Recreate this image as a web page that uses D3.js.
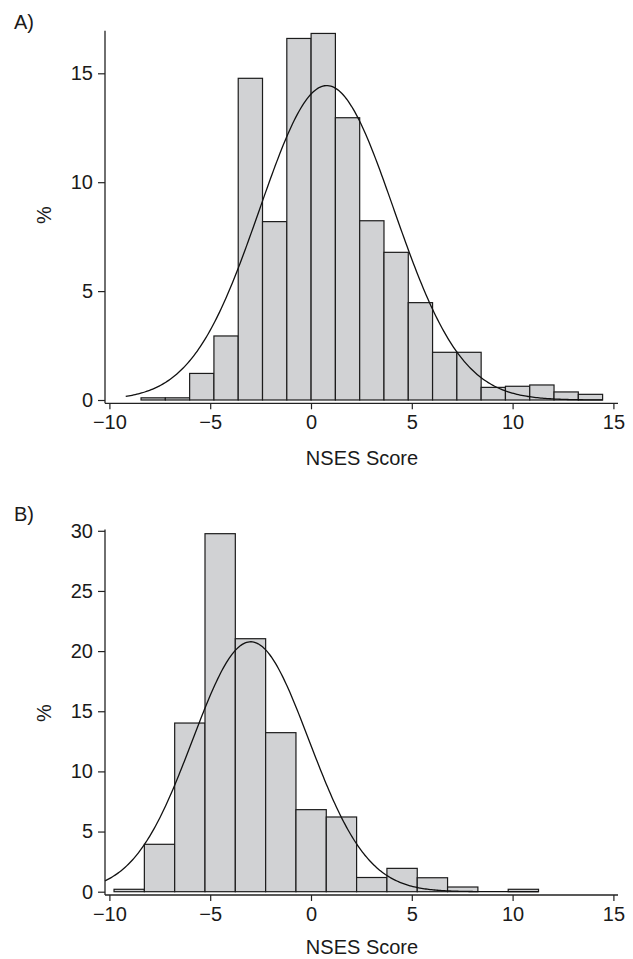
<!DOCTYPE html>
<html>
<head>
<meta charset="utf-8">
<script src="https://cdn.jsdelivr.net/npm/d3@7"></script>
<style>
  html, body { margin: 0; padding: 0; background: #fff; }
  svg { display: block; }
  text { font-family: "Liberation Sans", Arial, sans-serif; fill: #1a1a1a; }
</style>
</head>
<body>
<svg id="chart" width="633" height="959"></svg>
<script>
// ---------------- DATA ----------------
// Panel A histogram
const binStartA = -8.43;
const binWidthA = 1.205;
const percentA = [0.1, 0.1, 1.22, 2.94, 14.77, 8.19, 16.6, 16.83, 12.96, 8.23,
                  6.78, 4.47, 2.19, 2.19, 0.58, 0.63, 0.69, 0.37, 0.26];
// Panel A fitted normal curve parameters
const meanA = 0.78, sdA = 3.33, curveFromA = -9.19, curveToA = 14.47;

// Panel B histogram
const binStartB = -9.77;
const binWidthB = 1.504;
const percentB = [0.2, 3.94, 14.02, 29.76, 21.03, 13.22, 6.82, 6.21, 1.18, 1.94,
                  1.16, 0.39, 0, 0.2];
// Panel B fitted normal curve parameters
const meanB = -2.99, sdB = 2.888, curveFromB = -10.22, curveToB = 11.29;

// Axis ticks and labels
const xTicks = [-10, -5, 0, 5, 10, 15];
const yTicksA = [0, 5, 10, 15];
const yTicksB = [0, 5, 10, 15, 20, 25, 30];
const panelLabels = ["A)", "B)"];
const xTitle = "NSES Score";
const yTitle = "%";

// ---------------- DRAW ----------------
const svg = d3.select("#chart");
const fmt = d => d < 0 ? "\u2212" + Math.abs(d) : String(d);

const x = d3.scaleLinear().domain([-10, 15]).range([109.4, 613.4]);

function panel(cfg) {
  const g = svg.append("g");
  const y = d3.scaleLinear().domain([0, cfg.yMax]).range([cfg.y0, cfg.y0 - cfg.pxPerUnit * cfg.yMax]);
  const bins = cfg.values.map((v, i) => ({
    x0: cfg.binStart + i * cfg.binWidth,
    x1: cfg.binStart + (i + 1) * cfg.binWidth,
    v: v
  }));

  // bars
  g.selectAll("rect.bar").data(bins).enter().append("rect")
    .attr("class", "bar")
    .attr("x", d => x(d.x0))
    .attr("width", d => x(d.x1) - x(d.x0))
    .attr("y", d => y(d.v))
    .attr("height", d => Math.max(0, y(0) - y(d.v)))
    .attr("fill", "#d1d2d4")
    .attr("stroke", "#1c1c1c")
    .attr("stroke-width", 1.2);

  // normal curve (percent per bin)
  const dens = t => 100 * cfg.binWidth / (cfg.sd * Math.sqrt(2 * Math.PI)) *
                    Math.exp(-0.5 * Math.pow((t - cfg.mean) / cfg.sd, 2));
  const pts = d3.range(0, 301).map(i => cfg.cFrom + (cfg.cTo - cfg.cFrom) * i / 300);
  g.append("path")
    .datum(pts)
    .attr("d", d3.line().x(t => x(t)).y(t => y(dens(t))).curve(d3.curveLinear))
    .attr("fill", "none")
    .attr("stroke", "#111")
    .attr("stroke-width", 1.3);

  const axisY = cfg.y0 + 3.3;
  const axisX = 105;

  // y axis
  const yAx = g.append("g").attr("transform", `translate(${axisX},0)`)
    .call(d3.axisLeft(y).tickValues(cfg.yTicks).tickSize(7).tickPadding(5).tickFormat(fmt));
  yAx.select(".domain").remove();
  yAx.append("line").attr("x1", 0).attr("x2", 0)
    .attr("y1", y(cfg.axisTop)).attr("y2", axisY)
    .attr("stroke", "#222").attr("stroke-width", 1.3);
  yAx.selectAll(".tick line").attr("stroke", "#222").attr("stroke-width", 1.2);
  yAx.selectAll(".tick text").attr("font-size", 20).attr("fill", "#1a1a1a")
    .style("font-family", '"Liberation Sans", Arial, sans-serif');

  // x axis
  const xAx = g.append("g").attr("transform", `translate(0,${axisY})`)
    .call(d3.axisBottom(x).tickValues(xTicks).tickSize(6).tickPadding(6).tickFormat(fmt));
  xAx.select(".domain").remove();
  xAx.append("line").attr("x1", axisX).attr("x2", 618)
    .attr("y1", 0).attr("y2", 0)
    .attr("stroke", "#222").attr("stroke-width", 1.3);
  xAx.selectAll(".tick line").attr("stroke", "#222").attr("stroke-width", 1.2);
  xAx.selectAll(".tick text").attr("font-size", 20).attr("fill", "#1a1a1a")
    .style("font-family", '"Liberation Sans", Arial, sans-serif');

  // titles
  g.append("text").attr("x", 362).attr("y", cfg.y0 + cfg.xTitleDy)
    .attr("text-anchor", "middle").attr("font-size", 20).text(xTitle);
  g.append("text")
    .attr("transform", `translate(50.5,${cfg.yTitleY}) rotate(-90)`)
    .attr("text-anchor", "middle").attr("font-size", 20).text(yTitle);
  g.append("text").attr("x", 14).attr("y", cfg.labelY)
    .attr("font-size", 20).text(cfg.label);
}

panel({
  values: percentA, binStart: binStartA, binWidth: binWidthA,
  mean: meanA, sd: sdA, cFrom: curveFromA, cTo: curveToA,
  y0: 400, pxPerUnit: 21.78, yMax: 17, axisTop: 16.95, yTicks: yTicksA,
  yTitleY: 215, label: panelLabels[0], labelY: 28.5, xTitleDy: 65
});

panel({
  values: percentB, binStart: binStartB, binWidth: binWidthB,
  mean: meanB, sd: sdB, cFrom: curveFromB, cTo: curveToB,
  y0: 891.7, pxPerUnit: 12.03, yMax: 30.1, axisTop: 30.1, yTicks: yTicksB,
  yTitleY: 713, label: panelLabels[1], labelY: 521, xTitleDy: 62.5
});
</script>
</body>
</html>
